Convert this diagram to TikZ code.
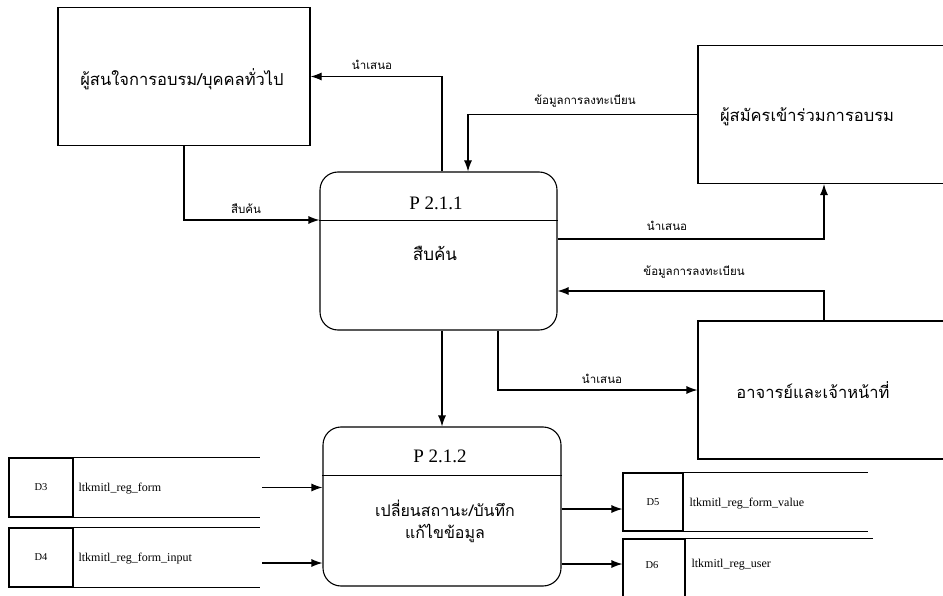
\documentclass[tikz,border=0pt]{standalone}
\usepackage{fontspec}
\setmainfont{Liberation Serif}
\newfontfamily\thai[Script=Thai]{Loma}
\usetikzlibrary{arrows.meta}

\begin{document}
\begin{tikzpicture}[x=1pt,y=-1pt,
  line width=1.1pt,
  entity/.style={draw, minimum width=252pt, minimum height=138pt, inner sep=0pt},
  proc/.style={draw, rounded corners=18pt, minimum width=237pt, minimum height=158pt, inner sep=0pt},
  idbox/.style={draw, minimum width=62pt, minimum height=59pt, inner sep=0pt, font=\fontsize{10.5}{12}\selectfont},
  storename/.style={anchor=west, inner sep=0pt, font=\fontsize{12}{14}\selectfont},
  bigthai/.style={font=\thai\fontsize{16.5}{19}\selectfont, inner sep=0pt},
  procthai/.style={font=\thai\fontsize{16}{19}\selectfont, inner sep=0pt},
  procid/.style={font=\fontsize{19}{22}\selectfont, inner sep=0pt},
  flowlbl/.style={font=\thai\fontsize{11.5}{13}\selectfont, inner sep=0pt},
  flow/.style={-{Latex[length=11pt,width=8pt]}}
]
\useasboundingbox (0,0) rectangle (943,596);

% external entities
\node[entity] (e1) at (184,76.5) {};
\node[bigthai] (e1t) at (182,79) {ผู้สนใจการอบรม/บุคคลทั่วไป};
\begin{scope}
\clip (0,0) rectangle (943,596);
\node[entity] (e2) at (824,114.5) {};
\node[entity] (e3) at (824,390) {};
\end{scope}
\node[bigthai] (e2t) at (807,117) {ผู้สมัครเข้าร่วมการอบรม};
\node[bigthai] (e3t) at (813,390) {อาจารย์และเจ้าหน้าที่};

% processes
\node[proc] (p1) at (438.5,251) {};
\draw ([yshift=-49pt]p1.north west) -- ([yshift=-49pt]p1.north east);
\node[procid] (p1id) at (436,203) {P 2.1.1};
\node[procthai, font=\thai\fontsize{17}{19}\selectfont] (p1t) at (435,253) {สืบค้น};

\node[proc, minimum width=238pt, minimum height=159pt] (p2) at (442,506.5) {};
\draw ([yshift=-49pt]p2.north west) -- ([yshift=-49pt]p2.north east);
\node[procid] (p2id) at (440,456) {P 2.1.2};
\node[procthai, align=center] (p2t) at (445,521)
  {เปลี่ยนสถานะ/บันทึก\\[3pt]แก้ไขข้อมูล};

% data stores
\node[idbox, minimum width=64pt] (d3) at (41,487.5) {D3};
\node[storename] (d3n) at (78,489) {ltkmitl\_reg\_form};
\coordinate (d3e) at (260,487.5);
\draw (d3.north east) -- (d3.north -| d3e);
\draw (d3.south east) -- (d3.south -| d3e);

\node[idbox, minimum width=64pt] (d4) at (41,557.5) {D4};
\node[storename] (d4n) at (78,559) {ltkmitl\_reg\_form\_input};
\coordinate (d4e) at (260,557.5);
\draw (d4.north east) -- (d4.north -| d4e);
\draw (d4.south east) -- (d4.south -| d4e);

\node[idbox, minimum width=60pt, minimum height=58pt] (d5) at (653,502) {D5};
\node[storename] (d5n) at (689,504) {ltkmitl\_reg\_form\_value};
\coordinate (d5e) at (868,502);
\draw (d5.north east) -- (d5.north -| d5e);
\draw (d5.south east) -- (d5.south -| d5e);

\begin{scope}
\clip (0,0) rectangle (943,596);
\node[idbox, minimum width=62pt, minimum height=61pt] (d6) at (654,569.5) {};
\coordinate (d6e) at (873,569.5);
\draw (d6.north east) -- (d6.north -| d6e);
\end{scope}
\node[font=\fontsize{10.5}{12}\selectfont, inner sep=0pt] (d6id) at (652,565) {D6};
\node[storename] (d6n) at (691,565) {ltkmitl\_reg\_user};

% data flows
\draw[flow] ([xshift=3.5pt]p1.north) |- (e1.east);
\node[flowlbl] (l1) at (372,65) {นำเสนอ};

\draw[flow] (e1.south) |- ([yshift=31pt]p1.west);
\node[flowlbl] (l2) at (246,209) {สืบค้น};

\draw[flow] (e2.west) -| ([xshift=29.5pt]p1.north);
\node[flowlbl] (l3) at (585,101) {ข้อมูลการลงทะเบียน};

\draw[flow] ([yshift=12pt]p1.east) -| (e2.south);
\node[flowlbl] (l4) at (667,226) {นำเสนอ};

\draw[flow] (e3.north) |- ([yshift=-40pt]p1.east);
\node[flowlbl] (l5) at (694,272) {ข้อมูลการลงทะเบียน};

\draw[flow] ([xshift=59.5pt]p1.south) |- (e3.west);
\node[flowlbl] (l6) at (602,379) {นำเสนอ};

\draw[flow] (p1.south -| p2.north) -- (p2.north);

\draw[flow] ([xshift=2pt]d3e) -- (d3e -| p2.west);
\draw[flow] ([xshift=2pt,yshift=-5.5pt]d4e) -- ([yshift=-5.5pt]d4e -| p2.west);
\draw[flow] ([yshift=-7pt]d5.west -| p2.east) -- ([yshift=-7pt]d5.west);
\draw[flow] ([yshift=5.5pt]d6.west -| p2.east) -- ([yshift=5.5pt]d6.west);
\end{tikzpicture}
\end{document}
